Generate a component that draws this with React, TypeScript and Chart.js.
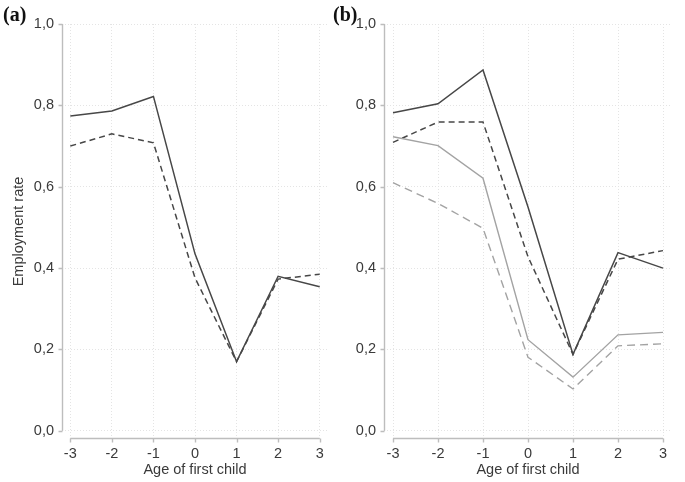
import React, { useEffect, useRef } from "react";
import { Chart, registerables } from "chart.js";

Chart.register(...registerables);

// ---- data ----
const ages = [-3, -2, -1, 0, 1, 2, 3];
const yTickValues = [0, 0.2, 0.4, 0.6, 0.8, 1.0];
const yTickLabels = ["0,0", "0,2", "0,4", "0,6", "0,8", "1,0"];

const panelASolid = [0.774, 0.786, 0.822, 0.435, 0.17, 0.38, 0.354];
const panelADashed = [0.7, 0.73, 0.708, 0.376, 0.17, 0.373, 0.385];

const panelBDarkSolid = [0.782, 0.804, 0.887, 0.55, 0.188, 0.438, 0.4];
const panelBDarkDashed = [0.709, 0.759, 0.759, 0.428, 0.188, 0.422, 0.443];
const panelBLightSolid = [0.723, 0.701, 0.621, 0.224, 0.132, 0.236, 0.242];
const panelBLightDashed = [0.61, 0.559, 0.498, 0.181, 0.103, 0.209, 0.214];

// ---- style ----
const DARK = "#474747";
const LIGHT = "#a3a3a3";
const GRID = "#e4e4e4";
const AXIS = "#bdbdbd";
const TEXT = "#3a3a3a";
const FONT_FAMILY = "'Liberation Sans', Arial, Helvetica, sans-serif";

const axisPlugin = {
  id: "stataAxes",
  beforeDatasetsDraw(chart: any) {
    const { ctx, chartArea, scales } = chart;
    const x = scales.x;
    const y = scales.y;
    ctx.save();
    ctx.strokeStyle = AXIS;
    ctx.lineWidth = 1.4;
    ctx.beginPath();
    const left = Math.round(chartArea.left) + 0.5;
    const yTop = y.getPixelForValue(yTickValues[yTickValues.length - 1]);
    const yBot = y.getPixelForValue(yTickValues[0]);
    ctx.moveTo(left, yTop);
    ctx.lineTo(left, yBot);
    yTickValues.forEach((v) => {
      const p = Math.round(y.getPixelForValue(v)) + 0.5;
      ctx.moveTo(left - 4, p);
      ctx.lineTo(left, p);
    });
    const bottom = Math.round(chartArea.bottom) - 0.5;
    const xl = x.getPixelForValue(ages[0]);
    const xr = x.getPixelForValue(ages[ages.length - 1]);
    ctx.moveTo(xl, bottom);
    ctx.lineTo(xr, bottom);
    ages.forEach((a) => {
      const p = Math.round(x.getPixelForValue(a)) + 0.5;
      ctx.moveTo(p, bottom);
      ctx.lineTo(p, bottom + 4);
    });
    ctx.stroke();
    ctx.restore();
  },
};

function line(data: number[], color: string, dash: number[], width: number) {
  return {
    data: ages.map((a, i) => ({ x: a, y: data[i] })),
    borderColor: color,
    borderWidth: width,
    borderDash: dash,
    pointRadius: 0,
    tension: 0,
    fill: false,
  };
}

function makeOptions(yWidth: number, padRight: number, showYTitle: boolean) {
  const font = { family: FONT_FAMILY, size: 14.5 };
  return {
    animation: false,
    responsive: false,
    devicePixelRatio: 1,
    layout: { padding: { left: 0, right: padRight, top: 24, bottom: 0 } },
    plugins: { legend: { display: false }, tooltip: { enabled: false } },
    scales: {
      x: {
        type: "linear",
        min: -3.2,
        max: 3.2,
        afterBuildTicks: (s: any) => {
          s.ticks = ages.map((v) => ({ value: v }));
        },
        afterFit: (s: any) => {
          s.height = 43;
        },
        ticks: {
          callback: (v: any) => String(v),
          font,
          color: TEXT,
          padding: 6,
          maxRotation: 0,
        },
        grid: { color: GRID, lineWidth: 1, drawTicks: false },
        border: { display: false, dash: [1, 2] },
        title: {
          display: true,
          text: "Age of first child",
          font,
          color: TEXT,
          padding: { top: 0, bottom: 3 },
        },
      },
      y: {
        type: "linear",
        min: -0.02,
        max: 1.0,
        afterBuildTicks: (s: any) => {
          s.ticks = yTickValues.map((v) => ({ value: v }));
        },
        afterFit: (s: any) => {
          s.width = yWidth;
        },
        ticks: {
          callback: (v: any) => {
            const i = yTickValues.findIndex((t) => Math.abs(t - v) < 1e-6);
            return i >= 0 ? yTickLabels[i] : "";
          },
          font,
          color: TEXT,
          padding: 8,
        },
        grid: { color: GRID, lineWidth: 1, drawTicks: false },
        border: { display: false, dash: [1, 2] },
        title: {
          display: showYTitle,
          text: "Employment rate",
          font,
          color: TEXT,
          padding: { top: 10, bottom: 0 },
        },
      },
    },
  };
}

function Panel(props: {
  left: number;
  width: number;
  yWidth: number;
  padRight: number;
  showYTitle: boolean;
  datasets: any[];
}) {
  const ref = useRef<HTMLCanvasElement | null>(null);
  useEffect(() => {
    if (!ref.current) return;
    const chart = new Chart(ref.current, {
      type: "line",
      data: { datasets: props.datasets },
      options: makeOptions(props.yWidth, props.padRight, props.showYTitle) as any,
      plugins: [axisPlugin],
    } as any);
    return () => chart.destroy();
  }, []);
  return (
    <canvas
      ref={ref}
      width={props.width}
      height={482}
      style={{
        position: "absolute",
        left: props.left,
        top: 0,
        width: props.width,
        height: 482,
      }}
    />
  );
}

export default function App() {
  const labelStyle: React.CSSProperties = {
    position: "absolute",
    top: 3,
    fontFamily: "'Liberation Serif', 'Times New Roman', serif",
    fontWeight: "bold",
    fontSize: 20,
    color: "#111",
    lineHeight: "22px",
  };
  return (
    <div
      style={{
        position: "fixed",
        left: 0,
        top: 0,
        width: 685,
        height: 482,
        background: "#fff",
        overflow: "hidden",
      }}
    >
      <Panel
        left={0}
        width={335}
        yWidth={62}
        padRight={7}
        showYTitle={true}
        datasets={[
          line(panelASolid, DARK, [], 1.5),
          line(panelADashed, DARK, [6, 4], 1.5),
        ]}
      />
      <Panel
        left={335}
        width={350}
        yWidth={49}
        padRight={13}
        showYTitle={false}
        datasets={[
          line(panelBLightDashed, LIGHT, [8, 5], 1.4),
          line(panelBLightSolid, LIGHT, [], 1.4),
          line(panelBDarkDashed, DARK, [6, 4], 1.5),
          line(panelBDarkSolid, DARK, [], 1.5),
        ]}
      />
      <div style={{ ...labelStyle, left: 3 }}>(a)</div>
      <div style={{ ...labelStyle, left: 333 }}>(b)</div>
    </div>
  );
}
